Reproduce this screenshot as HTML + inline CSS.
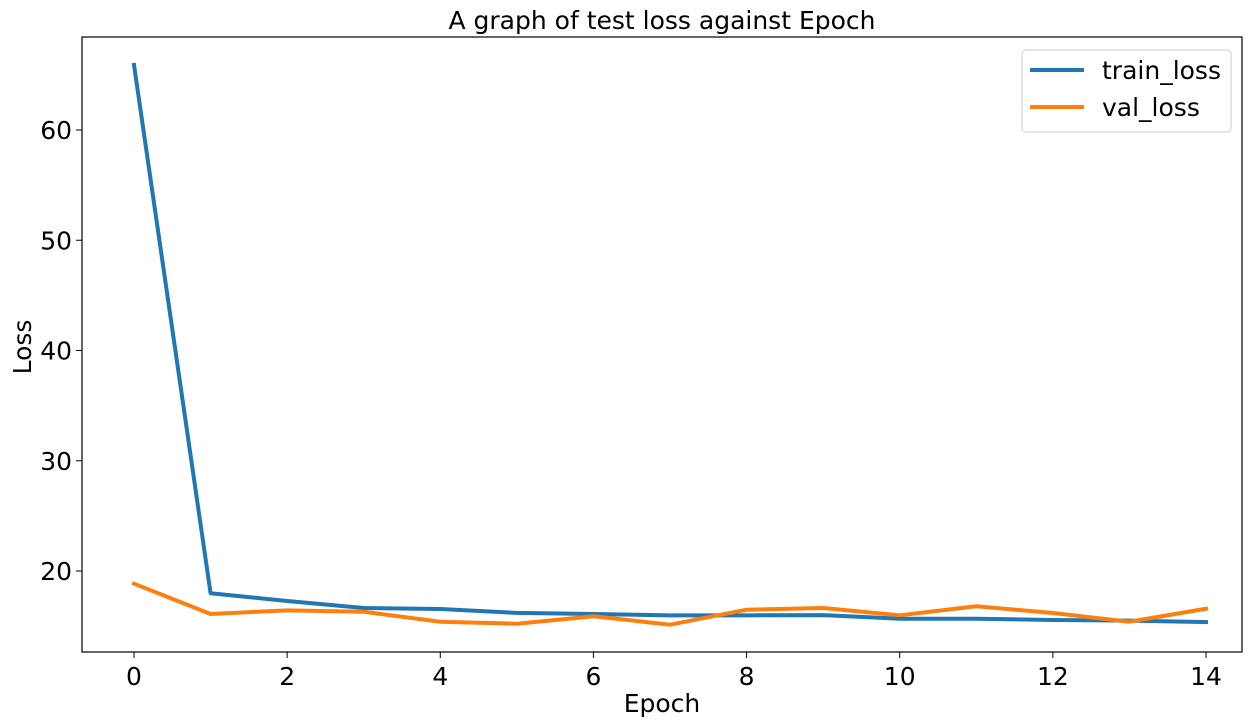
<!DOCTYPE html>
<html><head><meta charset="utf-8"><style>
html,body{margin:0;padding:0;background:#fff;}
svg{display:block;font-family:"DejaVu Sans","Liberation Sans",sans-serif;}
</style></head><body>
<svg id="chart" width="1253" height="726"></svg>
<script>
const epochs = [0,1,2,3,4,5,6,7,8,9,10,11,12,13,14];
const trainLoss = [65.9,17.98,17.28,16.64,16.55,16.2,16.1,15.98,15.98,16.0,15.67,15.67,15.56,15.5,15.37];
const valLoss = [18.85,16.1,16.43,16.3,15.4,15.22,15.9,15.13,16.49,16.64,15.98,16.8,16.19,15.4,16.58];
const xTicks = [0,2,4,6,8,10,12,14];
const yTicks = [20,30,40,50,60];

const NS='http://www.w3.org/2000/svg';
const svg=document.getElementById('chart');
const L=82,R=1242,T=37,B=652;
const FS=25;
const xs=v=>134+(v-0)*(1206-134)/14;
const ys=v=>571-(v-20)*11.025;
function el(tag,attrs,parent){const e=document.createElementNS(NS,tag);for(const k in attrs)e.setAttribute(k,attrs[k]);(parent||svg).appendChild(e);return e;}

const title=el('text',{x:662,y:29,'text-anchor':'middle','font-size':FS,fill:'#000'});
title.textContent='A graph of test loss against Epoch';



xTicks.forEach(t=>{
  const x=xs(t);
  const tk=el('line',{x1:x,x2:x,y1:B,y2:B+6,stroke:'#000','stroke-width':1});
  
  
  const lb=el('text',{x:x,y:B+33,'text-anchor':'middle','font-size':FS,fill:'#000'});
  lb.textContent=t;
  
  
});
yTicks.forEach(t=>{
  const y=ys(t);
  const tk=el('line',{x1:L-6,x2:L,y1:y,y2:y,stroke:'#000','stroke-width':1});
  
  
  const lb=el('text',{x:L-10,y:y+9,'text-anchor':'end','font-size':FS,fill:'#000'});
  lb.textContent=t;
  
  
});
const xt=el('text',{x:662,y:712,'text-anchor':'middle','font-size':FS,fill:'#000'});
xt.textContent='Epoch';


const yt=el('text',{x:0,y:0,'text-anchor':'middle','font-size':FS,fill:'#000',transform:'translate(31,347) rotate(-90)'});
yt.textContent='Loss';



function series(vals,color,name){
  const p=el('polyline',{points:vals.map((v,i)=>xs(epochs[i])+','+ys(v)).join(' '),fill:'none',stroke:color,'stroke-width':4,'stroke-linejoin':'round','stroke-linecap':'square'});
  
  
}
series(trainLoss,'#1f77b4','train-loss-line');
series(valLoss,'#ff7f0e','val-loss-line');

const frame=el('rect',{x:L,y:T,width:R-L,height:B-T,fill:'none',stroke:'#000','stroke-width':1.2});



const lg=el('g',{});


el('rect',{x:1022,y:50,width:209,height:82,rx:4,fill:'#fff','fill-opacity':0.8,stroke:'#ccc','stroke-width':1},lg);
[['train_loss','#1f77b4',70],['val_loss','#ff7f0e',107]].forEach(([n,c,y])=>{
  const ln=el('line',{x1:1030,x2:1084,y1:y,y2:y,stroke:c,'stroke-width':4},lg);
  
  
  const tx=el('text',{x:1102,y:y+9,'font-size':FS,fill:'#000'},lg);
  tx.textContent=n;
  
  
});
</script>
</body></html>
